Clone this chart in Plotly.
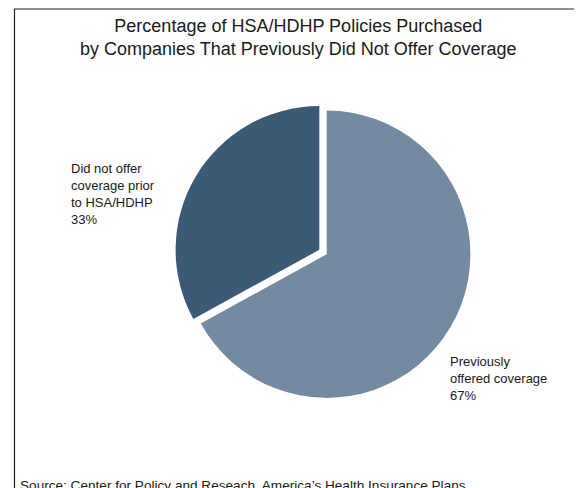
import plotly.graph_objects as go

labels = ["Previously offered coverage", "Did not offer coverage prior to HSA/HDHP"]
values = [67, 33]
colors = ["#738aa1", "#3c5a76"]
label_lines = [["Did not offer", "coverage prior", "to HSA/HDHP", "33%"],
               ["Previously", "offered coverage", "67%"]]
title_lines = ["Percentage of HSA/HDHP Policies Purchased",
               "by Companies That Previously Did Not Offer Coverage"]
source_text = "Source: Center for Policy and Reseach, America\u2019s Health Insurance Plans"

W, H = 582, 488
OFF = 8  # page body margin
cx, cy, half = 323 - OFF, 252 - OFF, 148

fig = go.Figure(go.Pie(
    labels=labels, values=values, sort=False, direction="clockwise",
    rotation=0, pull=[0.03, 0.03],
    marker=dict(colors=colors, line=dict(color="white", width=0)),
    textinfo="none", hoverinfo="label+percent", showlegend=False,
    domain=dict(x=[(cx - half) / W, (cx + half) / W],
                y=[(H - cy - half) / H, (H - cy + half) / H]),
))

font = dict(family="Liberation Sans, Arial, sans-serif", color="#1a1a1a")


def px(x):
    return (x - OFF) / W


def py(y):
    return 1 - (y - OFF) / H


ann = []
ann.append(dict(x=px(298), y=py(37), text="<br>".join(title_lines),
                showarrow=False, xref="paper", yref="paper", xanchor="center",
                yanchor="middle", align="center",
                font=dict(size=18, **font)))
ann.append(dict(x=px(69), y=py(194), text="<br>".join(label_lines[0]),
                showarrow=False, xref="paper", yref="paper", xanchor="left",
                yanchor="middle", align="left", font=dict(size=13, **font)))
ann.append(dict(x=px(448), y=py(378), text="<br>".join(label_lines[1]),
                showarrow=False, xref="paper", yref="paper", xanchor="left",
                yanchor="middle", align="left", font=dict(size=13, **font)))
ann.append(dict(x=px(18), y=py(485), text=source_text,
                showarrow=False, xref="paper", yref="paper", xanchor="left",
                yanchor="middle", align="left", font=dict(size=13.6, **font)))

fig.update_layout(
    width=W, height=H, margin=dict(l=0, r=0, t=0, b=0),
    paper_bgcolor="white", plot_bgcolor="white",
    annotations=ann,
    shapes=[dict(type="rect", xref="paper", yref="paper",
                 x0=px(14.5), x1=px(580.5), y0=-0.1, y1=py(9),
                 line=dict(color="#222222", width=1.2), layer="below")],
)

fig.write_html("out.html")
